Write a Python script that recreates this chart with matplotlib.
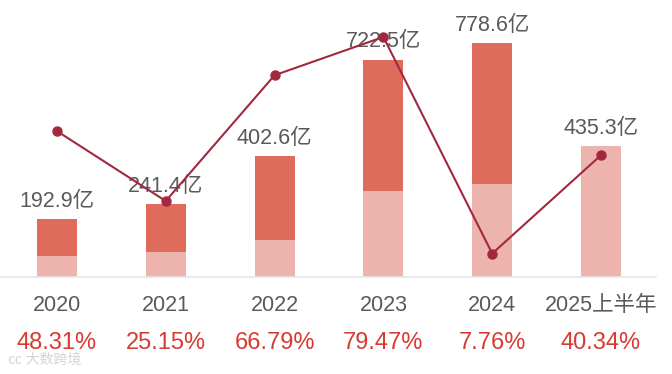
import matplotlib
matplotlib.use("Agg")
import matplotlib.pyplot as plt
import numpy as np

# 数据
years = ["2020", "2021", "2022", "2023", "2024", "2025上半年"]
totals = [192.9, 241.4, 402.6, 722.5, 778.6, 435.3]      # 全年, 亿
first_half = [70, 83, 123, 286, 310, 435.3]               # 上半年 (估读)
growth = [48.31, 25.15, 66.79, 79.47, 7.76, 40.34]        # 增速 %

FONT = ["Liberation Sans", "Noto Sans CJK SC", "DejaVu Sans"]
plt.rcParams["font.family"] = FONT

GRAY = "#5a5a5a"
RED = "#d63a30"
DARK = "#df6b5b"
LIGHT = "#edb4ad"
LINE = "#a2283f"

fig = plt.figure(figsize=(6.72, 3.74), dpi=100)
ax = fig.add_axes([0, 97 / 374, 656 / 672, 277 / 374])

x = np.arange(len(years))
second_half = [t - h for t, h in zip(totals, first_half)]
ax.bar(x, first_half, width=0.367, color=LIGHT, zorder=2)
ax.bar(x, second_half, bottom=first_half, width=0.367, color=DARK, zorder=2)

ax.set_xlim(-0.523, 5.505)
ax.set_ylim(0, 922)
for s in ["top", "right", "left"]:
    ax.spines[s].set_visible(False)
ax.spines["bottom"].set_color("#e6e6e6")
ax.spines["bottom"].set_linewidth(1.2)
ax.set_yticks([])
ax.set_xticks(x)
ax.set_xticklabels(years, fontsize=15.5, color=GRAY)
ax.tick_params(axis="x", length=0, pad=13)

for i, v in enumerate(totals):
    ax.annotate(f"{v}亿", xy=(i, v), xytext=(0, 9), textcoords="offset points",
                ha="center", va="baseline", fontsize=15.5, color=GRAY, zorder=3)

for i, g in enumerate(growth):
    ax.annotate(f"{g:.2f}%", xy=(i, 0), xytext=(0, -47.5), textcoords="offset points",
                ha="center", va="center", fontsize=17, color=RED, annotation_clip=False)

# 增速折线
ax2 = ax.twinx()
ax2.set_ylim(0, 91.7)
ax2.axis("off")
ax2.plot(x, growth, color=LINE, linewidth=1.5, marker="o", markersize=6.5, zorder=5)

# 水印
fig.text(8 / 672, 1 - 360 / 374, "㏄ 大数跨境", fontsize=10, color="#d4d4d4", va="center", ha="left")

fig.savefig("out.png", dpi=100)
